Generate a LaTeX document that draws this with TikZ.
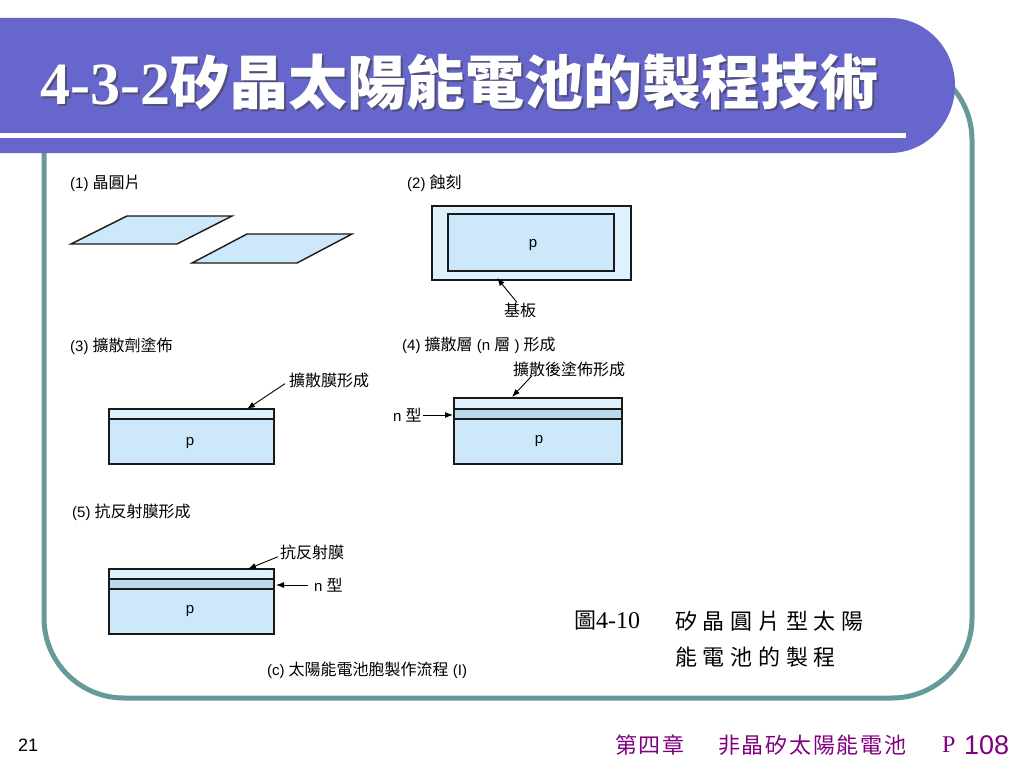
\documentclass[tikz,border=0pt]{standalone}
\usepackage{fontspec}
\usepackage{graphicx}
\usetikzlibrary{arrows.meta}
\setmainfont{Liberation Sans}
\newfontfamily\cjk{Noto Sans CJK TC}
\newfontfamily\cjkcap{Noto Sans CJK TC}[LetterSpace=26]
\newfontfamily\cjkfoot{Noto Sans CJK TC}[LetterSpace=8]
\newfontfamily\tnr{Liberation Serif}
\newcommand\fsz[1]{\fontsize{#1}{#1}\selectfont}
\newcommand\zh[1]{{\cjk\fsz{16}#1}}
\definecolor{bannerc}{RGB}{102,102,204}
\definecolor{framec}{RGB}{102,153,153}
\definecolor{waferblue}{RGB}{204,232,250}
\definecolor{lightblue}{RGB}{222,241,252}
\definecolor{nblue}{RGB}{186,218,238}
\definecolor{footc}{RGB}{128,0,128}
\tikzset{
  lbl/.style={inner sep=0pt, anchor=west, font=\fsz{15}},
  ctr/.style={inner sep=0pt, font=\fsz{15}},
  wafer/.style={draw=black!90, line width=1.4pt, fill=waferblue},
  arr/.style={-{Latex[length=8pt,width=6pt]}, line width=0.9pt},
}
\begin{document}
\begin{tikzpicture}[x=1pt,y=-1pt]
\useasboundingbox (0,0) rectangle (1024,768);
% frame
\draw[line width=5pt, draw=framec, rounded corners=80pt] (44,60) rectangle (972,698);
% banner
\fill[bannerc] (0,18) -- (890,18) arc[start angle=-90, end angle=90, x radius=65, y radius=67.5] -- (0,153) -- cycle;
\fill[white] (0,133) rectangle (906,137.5);
% title (shadow, then text)
\node[anchor=west, inner sep=0pt, text=black!75, opacity=0.6] at (42.5,84.5)
  {{\tnr\bfseries\fsz{60}4-3-2}{\cjk\bfseries\fsz{59}矽晶太陽能電池的製程技術}};
\node[anchor=west, inner sep=0pt, text=white] (title) at (40,82)
  {{\tnr\bfseries\fsz{60}4-3-2}{\cjk\bfseries\fsz{59}矽晶太陽能電池的製程技術}};

% (1)
\node[lbl] (l1) at (70,183) {(1) \zh{晶圓片}};
\filldraw[wafer] (71,244) -- (127,216) -- (232,216) -- (177,244) -- cycle;
\filldraw[wafer] (192,263) -- (247,234) -- (352,234) -- (297,263) -- cycle;

% (2)
\node[lbl] (l2) at (407,183) {(2) \zh{蝕刻}};
\filldraw[wafer, fill=lightblue] (432,206) rectangle (631,280);
\filldraw[wafer] (448,214) rectangle (614,271);
\node[ctr] (p2) at (533,245) {p};
\node[ctr] (kiban) at (520,310) {\zh{基板}};
\coordinate (subhead) at (497,278);
\draw[arr] ([xshift=-3pt]kiban.north) -- (subhead);

% (3)
\node[lbl] (l3) at (70,346) {(3) \zh{擴散劑塗佈}};
\filldraw[wafer, fill=lightblue] (109,409) rectangle (274,419);
\filldraw[wafer] (109,419) rectangle (274,464);
\node[ctr] (p3) at (190,443) {p};
\node[lbl] (d3) at (289,380) {\zh{擴散膜形成}};
\coordinate (d3h) at (247,409);
\draw[arr] ([xshift=-4pt,yshift=4pt]d3.south west) -- (d3h);

% (4)
\node[lbl] (l4) at (402,345) {(4) \zh{擴散層} (n \zh{層} ) \zh{形成}};
\filldraw[wafer, fill=lightblue] (454,398) rectangle (622,409);
\filldraw[wafer, fill=nblue] (454,409) rectangle (622,419);
\filldraw[wafer] (454,419) rectangle (622,464);
\node[ctr] (p4) at (539,441) {p};
\node[lbl] (d4) at (513,369) {\zh{擴散後塗佈形成}};
\coordinate (d4h) at (512,397);
\draw[arr] ([xshift=19pt,yshift=1pt]d4.south west) -- (d4h);
\node[lbl] (n4) at (393,415) {n \zh{型}};
\coordinate (n4h) at (453,415);
\draw[arr] ([xshift=1pt]n4.east) -- (n4h);

% (5)
\node[lbl] (l5) at (72,512) {(5) \zh{抗反射膜形成}};
\filldraw[wafer, fill=lightblue] (109,569) rectangle (274,579);
\filldraw[wafer, fill=nblue] (109,579) rectangle (274,589);
\filldraw[wafer] (109,589) rectangle (274,634);
\node[ctr] (p5) at (190,611) {p};
\node[lbl] (ar) at (280,552) {\zh{抗反射膜}};
\coordinate (arh) at (248,569);
\draw[arr] ([xshift=-2pt,yshift=3pt]ar.south west) -- (arh);
\node[lbl] (n5) at (314,585) {n \zh{型}};
\coordinate (n5h) at (276,585);
\draw[arr] ([xshift=-6pt]n5.west) -- (n5h);

% captions
\node[ctr] (capc) at (367,670) {(c) \zh{太陽能電池胞製作流程} (I)};
\node[anchor=west, inner sep=0pt] (fig1) at (574,621)
  {{\cjk\fsz{22}圖}{\tnr\fsz{24}4-10}};
\node[anchor=west, inner sep=0pt] (fig2) at (675,621) {\cjkcap\fsz{22}矽晶圓片型太陽};
\node[anchor=west, inner sep=0pt] (fig3) at (675,657) {\cjkcap\fsz{22}能電池的製程};

% footer
\node[anchor=west, inner sep=0pt, font=\fsz{18}] (pg) at (18,745) {21};
\node[anchor=west, inner sep=0pt, text=footc] (ft1) at (615,745) {\cjkfoot\fsz{22}第四章};
\node[anchor=west, inner sep=0pt, text=footc] (ft2) at (718,745) {\cjkfoot\fsz{22}非晶矽太陽能電池};
\node[anchor=west, inner sep=0pt, text=footc] (ft3) at (942,745) {\tnr\fsz{24}P};
\node[anchor=west, inner sep=0pt, text=footc] (ft4) at (964,745) {\fsz{27}108};
\end{tikzpicture}
\end{document}
